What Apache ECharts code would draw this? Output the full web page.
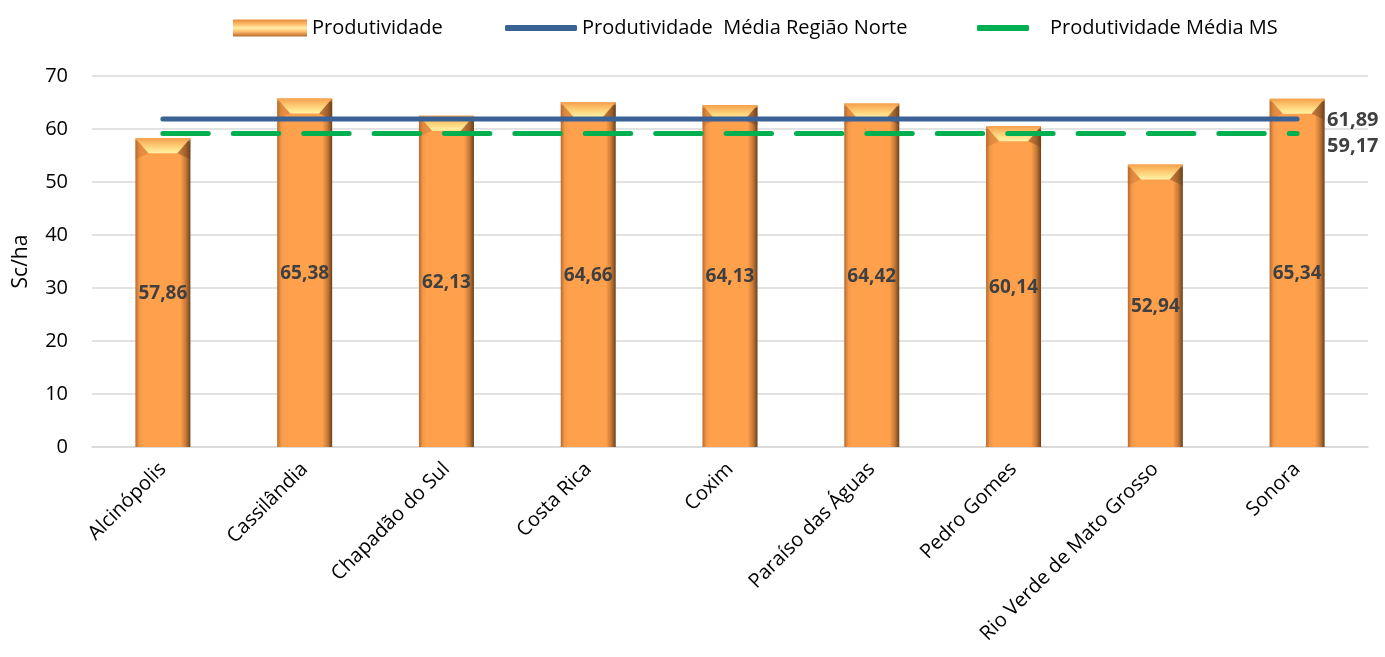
<!DOCTYPE html>
<html>
<head>
<meta charset="utf-8">
<script src="https://cdn.jsdelivr.net/npm/echarts@6/dist/echarts.min.js"></script>
<style>
  html, body { margin: 0; padding: 0; background: #fff; }
  #chart { width: 1385px; height: 657px; }
</style>
</head>
<body>
<div id="chart"></div>
<script>
// Municípios da Região Norte (MS)
const municipios = ['Alcinópolis', 'Cassilândia', 'Chapadão do Sul', 'Costa Rica', 'Coxim',
  'Paraíso das Águas', 'Pedro Gomes', 'Rio Verde de Mato Grosso', 'Sonora'];
// Produtividade (sc/ha)
const produtividade = [57.86, 65.38, 62.13, 64.66, 64.13, 64.42, 60.14, 52.94, 65.34];
// Médias de referência
const mediaRegiaoNorte = 61.89;
const mediaMS = 59.17;
const yTicks = [0, 10, 20, 30, 40, 50, 60, 70];

const fmt = v => v.toFixed(2).replace('.', ',');
const FONT = '"Open Sans", Lato, sans-serif';
const BAR_W = 55;
const AZUL = '#3a6294';
const VERDE = '#00b050';

const chart = echarts.init(document.getElementById('chart'));

const barGradient = new echarts.graphic.LinearGradient(0, 0, 1, 0, [
  { offset: 0, color: '#b8692c' },
  { offset: 0.07, color: '#f29848' },
  { offset: 0.14, color: '#ffa04d' },
  { offset: 0.82, color: '#ffa04d' },
  { offset: 0.92, color: '#c47834' },
  { offset: 1, color: '#6a401d' }
]);

const legendIcon = new echarts.graphic.LinearGradient(0, 0, 0, 1, [
  { offset: 0, color: '#e88a3a' },
  { offset: 0.3, color: '#ffc070' },
  { offset: 0.5, color: '#fff0a8' },
  { offset: 0.7, color: '#ffc070' },
  { offset: 1, color: '#b8692c' }
]);

const legendText = { fontFamily: FONT, fontSize: 20, color: '#000' };
// ícone contínuo (sem tracejado) para as linhas na legenda
const solidIcon = color => ({ color: color, borderColor: color, borderWidth: 0, borderType: 'solid' });
const solidLine = color => ({ color: color, type: 'solid', width: 0 });

chart.setOption({
  animation: false,
  grid: { left: 92, right: 17, top: 76, bottom: 210 },
  legend: [
    { left: 228, top: 13, itemWidth: 74, itemHeight: 17, textStyle: legendText,
      data: [{ name: 'Produtividade', icon: 'rect', itemStyle: { color: legendIcon } }] },
    { left: 500, top: 13, itemWidth: 72, itemHeight: 6, textStyle: legendText,
      data: [{ name: 'Produtividade  Média Região Norte', icon: 'roundRect',
        itemStyle: solidIcon(AZUL), lineStyle: solidLine(AZUL) }] },
    { left: 972, top: 13, itemWidth: 52, itemHeight: 6,
      textStyle: Object.assign({ padding: [0, 0, 0, 16] }, legendText),
      data: [{ name: 'Produtividade Média MS', icon: 'roundRect',
        itemStyle: solidIcon(VERDE), lineStyle: solidLine(VERDE) }] }
  ],
  xAxis: {
    type: 'category',
    data: municipios,
    axisTick: { show: false },
    axisLine: { lineStyle: { color: '#d9d9d9', width: 1.5 } },
    axisLabel: { rotate: 45, margin: 19, fontFamily: FONT, fontSize: 20, color: '#000', interval: 0 }
  },
  yAxis: {
    type: 'value',
    min: yTicks[0],
    max: yTicks[yTicks.length - 1],
    interval: 10,
    name: 'Sc/ha',
    nameLocation: 'middle',
    nameGap: 60,
    nameTextStyle: { fontFamily: FONT, fontSize: 21, color: '#000' },
    axisLabel: { fontFamily: FONT, fontSize: 20, color: '#000', margin: 24 },
    splitLine: { lineStyle: { color: '#d9d9d9', width: 1.5 } }
  },
  series: [
    {
      name: 'Produtividade',
      type: 'bar',
      data: produtividade,
      barWidth: BAR_W,
      z: 2,
      itemStyle: { color: barGradient },
      label: {
        show: true, position: 'inside', formatter: p => fmt(p.value),
        fontFamily: FONT, fontSize: 19, fontWeight: 'bold', color: '#404040'
      }
    },
    {
      // bisel superior das colunas
      name: 'bisel',
      type: 'custom',
      z: 3,
      silent: true,
      data: produtividade.map((v, i) => [i, v]),
      renderItem: function (params, api) {
        const p = api.coord([api.value(0), api.value(1)]);
        const x0 = p[0] - BAR_W / 2, x1 = p[0] + BAR_W / 2, y = p[1] - 2;
        const b = 13, h = 15;
        return {
          type: 'group',
          children: [
            {
              type: 'rect',
              shape: { x: x0, y: y, width: BAR_W, height: 3 },
              style: { fill: '#f6a04c' }
            },
            {
              type: 'polygon',
              shape: { points: [[x0, y], [x1, y], [x1 - b, y + h], [x0 + b, y + h]] },
              style: {
                fill: new echarts.graphic.LinearGradient(0, 0, 0, 1, [
                  { offset: 0, color: '#f6a04c' },
                  { offset: 0.55, color: '#ffd27a' },
                  { offset: 1, color: '#fff4a8' }
                ])
              }
            },
            {
              type: 'polygon',
              shape: { points: [[x1, y], [x1, y + h + 6], [x1 - b, y + h]] },
              style: { fill: 'rgba(110,64,29,0.45)' }
            },
            {
              type: 'polygon',
              shape: { points: [[x0, y], [x0, y + h + 6], [x0 + b, y + h]] },
              style: { fill: 'rgba(184,105,44,0.35)' }
            }
          ]
        };
      }
    },
    {
      name: 'Produtividade  Média Região Norte',
      type: 'line',
      data: municipios.map(() => mediaRegiaoNorte),
      symbol: 'none',
      z: 4,
      lineStyle: { color: AZUL, width: 5, cap: 'round' },
      itemStyle: { color: AZUL },
      endLabel: {
        show: true, formatter: () => fmt(mediaRegiaoNorte), distance: 30, offset: [0, 1],
        fontFamily: FONT, fontSize: 20, fontWeight: 'bold', color: '#404040'
      }
    },
    {
      name: 'Produtividade Média MS',
      type: 'line',
      data: municipios.map(() => mediaMS),
      symbol: 'none',
      z: 4,
      lineStyle: { color: VERDE, width: 5, type: [45.4, 25], cap: 'round' },
      itemStyle: { color: VERDE },
      endLabel: {
        show: true, formatter: () => fmt(mediaMS), distance: 30, offset: [0, 13],
        fontFamily: FONT, fontSize: 20, fontWeight: 'bold', color: '#404040'
      }
    }
  ]
});
</script>
</body>
</html>
